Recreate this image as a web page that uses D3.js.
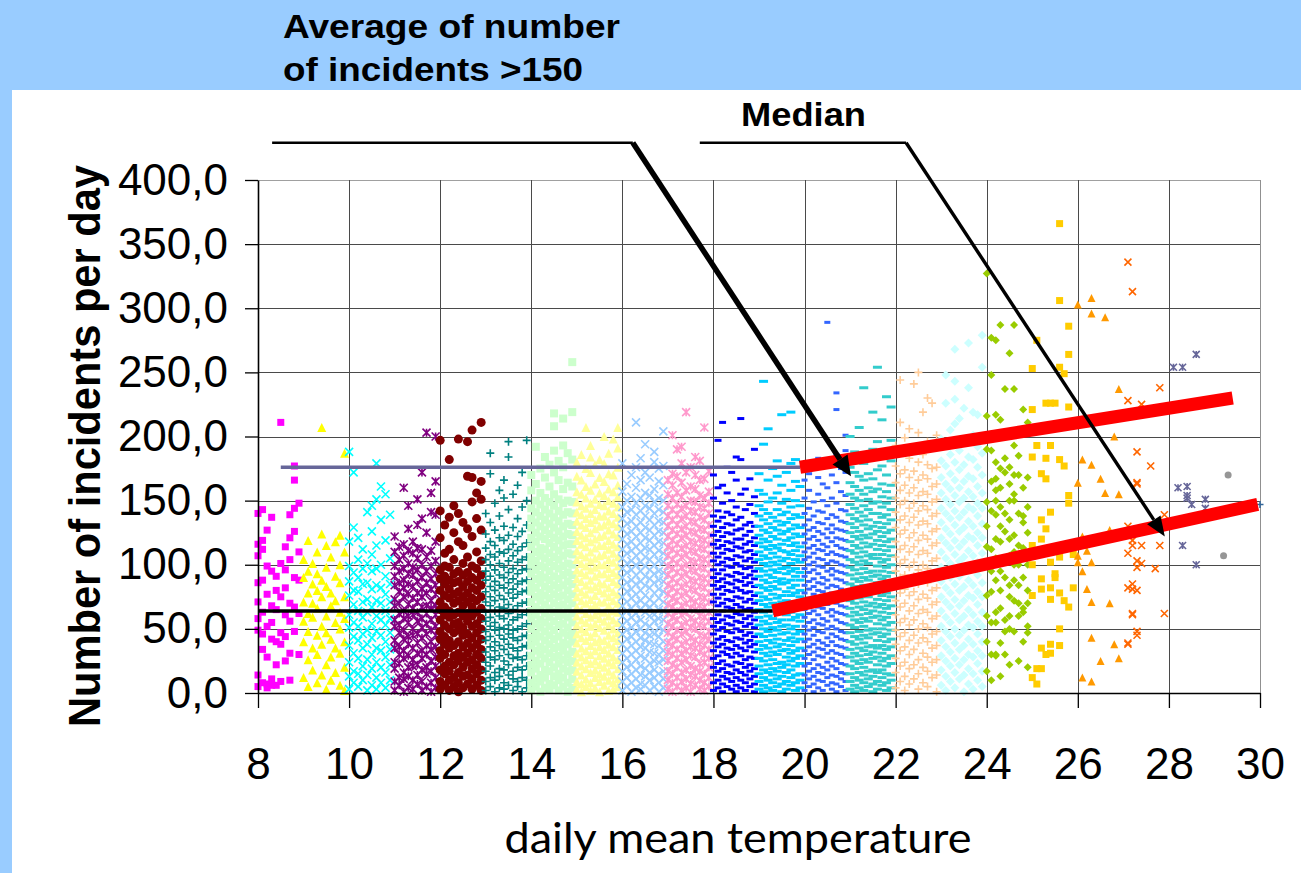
<!DOCTYPE html>
<html><head><meta charset="utf-8">
<script src="https://cdn.jsdelivr.net/npm/d3@7"></script>
<style>html,body{margin:0;padding:0;background:#fff;}svg{display:block;}</style>
</head><body>
<svg id="c" width="1301" height="873"></svg>
<script>
// ---------- DATA ----------
const xTicks = [8,10,12,14,16,18,20,22,24,26,28,30];
const yTicks = [0,50,100,150,200,250,300,350,400];
const xTitle = "daily mean temperature";
const yTitle = "Number of incidents per day";
const noteAverage = ["Average of number", "of incidents >150"];
const noteMedian = "Median";

// each band: 10 columns for temperatures t0.0 ... t0.9, values = incidents per day
const inc08 = [[5,14,49,58,71,86,107,116,140],[8,34,46,63,88,112,119,143],[4,7,28,52,77,99,127],[6,11,42,55,68,95,137],[6,22,40,65,80,91],[9,38,47,75,101,211],[25,44,61,82,96,114],[10,31,56,70,104,121,139],[48,67,90,126,144,166,177],[30,62,88,110,148]];
const inc09 = [[12,40,56,71,90,104],[5,26,48,62,78,95,119],[18,35,59,70,85,101],[8,30,45,66,80,93,110],[14,38,52,75,88,124,207],[3,22,47,60,83,98,115],[10,28,42,68,78,106],[16,35,55,72,91,118],[6,31,50,63,86,100,123],[2,20,40,58,75,110,187]];
const inc10 = [[3,13,24,37,51,61,76,87,99,118,188],[8,17,31,44,55,69,80,94,129,172],[5,15,27,41,52,64,79,90,104,121],[10,21,35,46,59,71,85,97,112],[2,14,26,38,49,63,73,86,101,141],[6,19,30,43,54,67,81,95,108,126,146],[3,12,24,35,48,60,72,84,97,115,151,179],[8,20,33,45,57,70,82,100,135,161],[4,16,28,40,53,64,77,91,119,155],[10,22,34,47,58,71,85,105,139]];
const inc11 = [[2,9,19,24,35,41,52,57,68,73,84,91,99,110,122],[6,12,23,30,36,47,53,62,70,79,86,95,104,114],[1,11,16,27,33,42,49,58,64,75,82,88,97,107,116,160],[4,13,20,29,38,44,55,60,69,77,85,93,101,111,128,146],[3,10,21,26,35,45,50,61,66,74,83,92,98,109,118],[7,14,22,31,39,46,56,63,71,78,87,96,105,113,131,151],[2,9,18,27,33,43,51,58,67,75,81,90,100,112,136,172],[5,15,20,30,37,46,54,62,68,78,86,95,106,125,203],[1,8,17,25,34,40,49,57,66,72,81,89,99,111,141,156],[4,12,21,28,36,45,52,61,68,77,84,93,103,118,139,165,200]];
const inc12 = [[3,9,18,27,33,42,48,57,65,71,80,89,96,121,142,197],[6,15,21,30,38,44,53,61,67,76,85,91,99,109,131],[2,10,17,24,35,41,50,59,64,74,81,88,98,112,137,182],[5,12,22,29,37,47,54,61,70,77,86,93,104,125,146],[1,8,16,25,31,40,49,55,63,72,79,87,95,118,140,198],[4,13,20,28,36,45,51,60,68,75,83,92,101,115,133],[7,14,24,31,39,46,56,62,71,78,87,94,106,128,169,196],[3,11,19,26,35,43,52,60,67,74,82,90,99,122,149,168,205],[6,15,22,30,38,47,54,63,72,80,88,97,110,136,156],[2,10,18,27,34,42,50,58,66,75,84,92,103,127,151,165,211]];
const inc13 = [[2,9,17,24,32,41,48,56,63,71,79,88,95,104,113,124,140],[5,12,21,28,36,44,52,59,68,75,83,91,100,108,118,133,171,187],[1,10,16,26,33,40,49,55,64,72,80,87,96,106,115,127,148],[4,13,19,29,37,45,51,60,67,76,84,92,101,110,121,138,158],[3,8,18,25,34,42,50,58,66,73,82,90,98,109,119,130,152,166],[6,14,22,30,38,46,53,62,69,78,86,94,103,112,123,143,184,196],[2,11,17,27,35,43,49,57,65,74,81,89,97,107,116,129,155],[5,9,20,28,33,41,50,59,68,77,85,93,102,111,122,136,162],[1,12,18,26,36,44,52,61,70,79,87,96,104,114,126,145,172],[4,10,21,29,37,45,54,63,71,80,88,97,106,117,131,150,197]];
const inc14 = [[2,8,16,22,29,37,43,50,58,64,71,79,85,93,100,106,114,121,129,136,144,158,170],[5,11,19,25,33,40,46,54,61,67,75,82,89,96,103,110,118,125,133,141,150,163,192],[1,9,14,23,30,36,44,51,57,65,72,78,86,92,99,107,113,122,130,138,147,156,175],[4,12,18,27,34,41,48,55,62,69,76,83,90,98,105,112,120,127,135,143,152,168,184],[3,7,17,24,31,38,45,52,59,66,74,81,88,95,102,109,117,124,132,140,149,161,178],[6,13,20,28,35,42,49,56,63,70,77,84,91,99,106,114,121,129,137,146,155,172,189,208,218],[2,10,15,23,29,36,44,53,60,68,75,82,89,97,104,111,119,126,134,142,151,166,181],[5,12,19,26,33,39,47,54,61,69,76,84,92,99,107,115,122,130,139,148,159,176,193,214],[1,8,17,24,30,38,45,51,59,66,73,80,87,94,101,109,116,124,132,141,150,164,187],[4,11,18,25,32,40,46,55,62,70,77,85,92,100,108,116,123,131,140,149,161,182,219,258]];
const inc15 = [[3,9,17,24,31,39,46,53,60,67,75,82,89,96,104,111,119,126,134,141,149,157,169,180],[1,7,14,21,28,35,43,50,57,65,72,79,87,94,101,108,116,123,131,139,146,155,166,186],[5,11,19,26,33,41,48,55,62,70,77,84,92,99,106,114,121,129,136,144,152,161,175,207],[2,8,16,23,30,37,44,52,59,66,73,81,88,96,103,110,118,125,133,140,148,158,172,184,193],[4,12,18,25,33,40,47,54,61,69,76,83,91,98,105,113,120,128,135,143,151,163,178],[1,9,15,22,29,36,42,51,58,64,71,80,86,93,100,107,115,122,130,138,147,156,168,182],[6,13,20,27,34,41,49,56,63,71,78,85,93,100,108,115,123,131,138,146,154,165,179,200],[2,10,17,24,31,38,45,53,60,68,75,82,90,97,104,112,119,127,134,142,150,159,171,187],[3,8,14,22,28,36,43,50,57,64,72,79,87,94,102,109,116,124,132,140,148,157,170,198],[5,11,19,26,34,41,47,55,63,70,77,85,92,99,106,114,122,130,137,145,153,162,176,191,207]];
const inc16 = [[2,9,17,24,31,38,46,53,60,68,75,83,90,97,105,112,120,128,136,145,157,179],[5,12,20,27,34,42,49,56,64,71,79,86,94,101,109,116,124,132,141,150,163],[1,8,15,22,30,37,44,51,59,66,74,81,88,96,103,111,118,126,134,143,153,170],[4,11,18,26,33,40,48,55,62,70,77,85,92,100,107,114,122,130,139,148,160,176,211],[3,7,14,21,29,36,43,50,57,65,72,80,87,95,102,110,117,125,133,142,152,166,183],[6,13,19,27,35,41,47,54,63,69,76,84,91,99,106,113,121,129,138,146,156,172,194],[2,10,16,23,32,39,45,52,60,67,73,82,89,96,104,112,119,127,135,144,154,168],[5,12,18,25,31,38,46,56,61,70,78,86,93,100,108,115,123,131,140,149,159,180,188],[1,8,15,24,30,37,44,51,58,65,74,81,88,95,103,111,118,126,134,143,152,165,175],[4,11,17,26,33,40,49,57,64,71,79,87,94,102,109,117,125,133,141,150,162,177,204]];
const inc17 = [[3,10,17,25,32,39,47,54,62,69,77,84,92,99,107,114,122,130,138,146,155,166],[1,8,15,22,30,37,44,52,59,67,74,82,89,97,104,112,119,127,135,143,152,162,171,201],[5,12,20,27,34,42,49,57,64,72,79,86,94,101,109,116,124,131,139,147,156,169,190],[2,9,16,24,31,38,46,53,61,68,76,83,91,98,106,113,121,128,136,144,153,164,179,192],[4,11,18,26,33,40,48,55,63,70,78,85,93,100,108,115,123,130,138,146,158,172,219],[1,7,14,21,29,36,43,51,58,66,73,81,88,96,103,111,118,126,134,142,150,161,176],[6,13,19,28,35,41,50,56,65,71,80,87,95,102,110,117,125,133,141,149,159,170,184],[3,10,17,23,32,38,45,53,60,68,75,83,90,98,105,113,120,128,137,145,154,166,181],[2,8,15,24,30,37,44,52,59,67,74,82,89,97,104,112,119,127,135,144,152,167,207],[5,12,20,27,34,42,48,56,63,71,78,86,93,101,108,116,123,131,140,148,157,173]];
const inc18 = [[2,8,14,20,27,33,39,46,52,58,64,71,77,84,90,96,103,109,116,123,130,138,152,170],[4,10,17,23,29,36,42,49,55,61,68,74,81,87,93,100,106,113,119,126,134,142,160,197],[1,7,13,19,25,32,38,44,51,57,64,70,77,83,89,96,102,109,115,122,129,137,148,162,211],[5,11,16,22,30,35,41,48,54,60,67,73,80,86,92,99,105,112,118,125,132,141,156,176],[3,9,15,21,28,34,40,47,53,59,66,72,79,85,91,98,104,111,117,124,131,139,150,172],[1,6,12,18,24,31,37,43,50,56,62,69,75,82,88,94,101,107,114,120,127,135,145,166,184],[4,10,16,23,29,35,42,48,55,61,67,74,80,87,93,99,106,113,120,128,137,155,182,214],[2,8,14,20,26,33,39,45,52,58,65,71,78,84,90,97,103,110,116,123,131,143,159],[5,11,17,22,28,36,41,47,54,60,66,73,79,86,92,98,105,111,118,126,133,147,167],[1,7,13,19,27,32,38,44,51,57,63,70,76,83,89,95,102,108,115,121,130,140,153,190]];
const inc19 = [[3,9,15,21,27,34,40,46,53,59,65,72,78,84,91,97,104,110,117,123,130,138,146,158,171],[1,6,12,18,25,31,37,44,50,56,63,69,75,82,88,95,101,107,114,120,127,135,143,155,194,243],[4,10,16,22,29,35,41,48,54,60,67,73,80,86,92,99,105,112,118,125,132,140,149,166,206],[2,8,14,19,26,32,39,45,51,58,64,70,77,83,90,96,102,109,115,122,129,137,152,175],[5,11,17,23,30,36,42,49,55,62,68,74,81,87,94,100,106,113,120,127,134,143,156,169,181],[1,7,13,20,24,33,38,46,52,57,65,71,76,85,89,97,103,111,116,124,131,139,148,162,217],[3,9,16,22,28,34,41,47,53,61,66,72,79,86,93,98,105,110,119,126,133,141,151,172],[6,12,18,25,31,37,43,50,57,63,69,76,82,88,95,101,108,115,121,128,136,145,158,179,219],[2,8,14,21,27,33,40,46,52,59,65,71,78,84,91,97,104,111,117,124,131,139,150,165,182],[4,10,15,23,29,35,42,48,56,61,67,75,80,88,94,102,107,114,122,129,137,146,161]];
const inc20 = [[2,8,14,21,27,33,40,46,52,59,65,72,78,84,91,97,104,110,117,124,131,140,152,166],[5,11,17,23,30,36,42,49,55,62,68,74,81,87,94,100,106,113,120,127,135,144,158,171],[1,7,13,19,26,32,38,45,51,57,64,70,77,83,89,96,102,109,115,122,129,138,149,176],[4,10,16,22,29,35,41,48,54,61,67,73,80,86,93,99,105,112,119,126,133,142,155,168,183],[2,9,15,20,28,34,39,47,53,58,66,71,79,85,90,98,104,111,116,124,132,141,150,163],[6,12,18,24,31,37,43,50,56,63,69,75,82,88,95,101,108,114,121,128,136,146,160,178,289],[3,8,14,21,27,33,40,46,52,60,65,72,78,84,92,97,103,110,118,125,131,139,152,170],[1,7,13,19,25,31,37,44,50,57,63,70,76,83,89,95,102,108,115,121,128,137,148,164,186,221,234],[5,11,16,23,30,36,42,48,55,62,68,74,81,88,94,100,107,113,120,127,134,143,157,175],[2,9,15,22,28,35,41,47,54,61,67,73,80,86,93,99,106,112,119,126,133,142,154,172,189,201]];
const inc21 = [[3,9,15,21,28,34,40,47,53,60,66,72,79,85,92,98,104,111,118,125,132,139,147,155,164,176,200],[1,6,12,19,25,31,38,44,51,57,63,70,76,83,89,96,102,109,115,122,129,136,144,152,161,172,188],[4,10,16,23,29,35,42,48,55,61,67,74,80,87,93,100,106,113,120,126,134,141,150,158,169,183,207],[2,8,14,20,26,33,39,45,52,58,65,71,77,84,90,97,103,110,117,123,131,138,146,155,166,179,238],[5,11,17,24,30,36,43,49,56,62,68,75,81,88,94,101,107,114,121,128,135,143,151,160,171,185],[1,7,13,18,27,32,37,46,50,59,64,70,78,82,91,95,105,108,116,124,130,140,148,157,167,190,219],[3,9,16,22,28,35,41,47,54,60,67,73,79,86,92,99,105,112,119,126,133,140,149,159,174,196,254],[6,12,18,25,31,37,44,50,57,63,69,76,82,89,95,102,108,115,122,129,137,145,153,163,177,213],[2,8,15,21,27,34,40,46,53,59,66,72,78,85,91,98,104,111,118,125,132,139,148,157,170,185,231],[4,10,14,23,29,36,42,49,55,62,68,75,81,87,94,100,107,114,120,127,135,143,152,162,181,197,223]];
const inc22 = [[4,16,27,38,49,61,72,83,95,106,118,129,141,152,164,177,193],[9,21,33,44,55,67,78,90,101,112,124,135,147,158,171,188,211,244],[2,13,24,36,47,58,70,81,92,104,115,127,138,150,162,174,199],[7,19,30,41,53,64,76,87,98,110,121,133,144,156,168,183,206],[11,22,34,45,57,68,79,91,102,114,125,137,148,160,173,190,241],[3,15,26,39,50,62,73,85,96,108,119,131,142,154,166,180,203,250],[8,20,31,43,54,65,77,88,100,111,123,134,146,157,170,186,219],[5,17,28,40,51,63,74,86,97,109,120,132,143,155,167,178,196,230],[12,24,35,46,58,69,80,92,103,115,126,138,149,161,175,192,226],[1,14,26,37,48,60,71,82,94,105,117,128,140,151,163,176,201]];
const inc23 = [[6,18,29,41,52,64,75,87,98,110,121,133,144,156,168,181,198],[2,13,25,36,48,59,71,82,94,105,117,128,140,151,163,177,193,226,248],[9,21,32,44,55,67,78,90,101,113,124,136,147,159,171,186,205],[4,16,27,39,50,62,73,85,96,108,119,131,142,154,166,180,210,229,243,268],[11,22,34,45,57,68,80,91,103,114,126,137,149,160,174,189,214],[1,14,26,37,49,60,72,83,95,106,118,129,141,152,165,178,196,222],[7,19,30,42,53,65,76,88,99,111,122,134,145,157,169,184,238,273],[3,15,28,38,51,61,74,84,97,107,120,130,143,153,167,182,201,219],[10,23,33,46,56,69,79,92,102,115,125,138,148,161,176,192,217],[5,17,29,40,52,63,75,86,98,109,121,132,144,156,170,187,254,279]];
const inc24 = [[327,216,190,149,130,114,100,76,60,40,17],[277,248,202,189,165,142,112,95,79,55,30,10],[275,217,180,167,158,150,139,120,105,88,63,55,30,29],[287,213,175,160,145,130,118,95,80,66,39,13],[237,200,183,172,140,126,105,90,57,48,30],[265,176,163,150,135,120,107,84,75,60,50,22],[287,237,193,170,155,150,123,110,100,88,72,48],[185,170,140,115,100,84,70,60,25],[221,160,138,133,113,90,66,63,40],[211,205,168,145,125,100,80,70,52,47,20]];
const inc25 = [[253,221,205,184,115,100,76,12],[275,193,19,7],[171,135,120,89,81,35,19],[226,183,167,128,30],[226,193,141,110,102,82,73,38,31],[226,93,90],[366,306,254,182,106,78,50,37],[249,177,72],[286,264,223,154,148,67],[108,82]];
const inc26 = [[303,164,107,102],[182,122,95,12],[111,81],[308,296,178,102,71,43,9],[],[167,25],[293,156],[127,70],[200,38],[237,155,27]];
const inc27 = [[],[336,228,130,109,82,39,38],[313,119,115,85,81,62,61],[188,164,163,103,98,80,48,45],[225,115,101],[],[177],[97],[238,115],[139,62]];
const inc28 = [[],[254],[160],[254,115],[161,154,152],[147],[264,100],[],[151,144],[]];
const inc29 = [[],[],[107],[170],[],[],[],[],[],[]];
const inc30 = [[147]];

const bandStart = [8,9,10,11,12,13,14,15,16,17,18,19,20,21,22,23,24,25,26,27,28,29,30];
const bandIncidents = [inc08,inc09,inc10,inc11,inc12,inc13,inc14,inc15,inc16,inc17,inc18,inc19,inc20,inc21,inc22,inc23,inc24,inc25,inc26,inc27,inc28,inc29,inc30];
const bandColor = ["#FF00FF","#FFFF00","#00FFFF","#800080","#800000","#008080","#CCFFCC","#FFFF99","#99CCFF","#FF99CC","#0000FF","#00CCFF","#3366FF","#33CCCC","#FFCC99","#CCFFFF","#99CC00","#FFCC00","#FF9900","#FF6600","#666699","#969696","#336699"];
const bandMarker = ["square","triangle","x","asterisk","circle","plus","square","triangle","x","asterisk","dash","dash","dash","dash","plus","diamond","diamond","square","triangle","x","asterisk","circle","plus"];
const bandSize = [7,9,8,8,9,8,8,9,8,8,7,9,6,9,8,9,8,7,8,7,7,7,7];

// reference lines (temperature, incidents)
const averageLevel = [[8.5,176],[19.9,176]];
const averageTrend = [[19.9,176],[29.4,230]];
const medianLevel = [[8.0,64],[19.3,64]];
const medianTrend = [[19.3,64],[29.95,147]];
// callout leader lines (temperature, incidents)
const averageCallout = [[8.31,429],[16.23,429],[21.02,169]];
const medianCallout = [[17.7,429],[22.23,429],[27.91,122]];

// ---------- DRAW ----------
const svg = d3.select("#c");
svg.append("rect").attr("width",1301).attr("height",873).attr("fill","#99CCFF");
svg.append("rect").attr("x",12).attr("y",90).attr("width",1289).attr("height",783).attr("fill","#fff");

const x = d3.scaleLinear().domain([8,30]).range([258,1260]);
const y = d3.scaleLinear().domain([0,400]).range([693,180]);
const px = v => Math.round(v)+0.5;

// grid
const grid = svg.append("g");
grid.selectAll("line.h").data(yTicks.filter(d=>d>0)).join("line")
  .attr("x1",x(8)).attr("x2",x(30)).attr("y1",d=>px(y(d))).attr("y2",d=>px(y(d)))
  .attr("stroke",d=>d===400?"#a0a0a0":"#4a4a4a").attr("stroke-width",1);
grid.selectAll("line.v").data(xTicks.filter(d=>d>8)).join("line")
  .attr("y1",y(0)).attr("y2",y(400)).attr("x1",d=>px(x(d))).attr("x2",d=>px(x(d)))
  .attr("stroke",d=>d===30?"#909090":"#4a4a4a").attr("stroke-width",1);

// markers
function markerPath(type, s){
  const h = s/2;
  switch(type){
    case "square": return `M${-h},${-h}h${s}v${s}h${-s}Z`;
    case "triangle": return `M0,${-h}L${h},${h}L${-h},${h}Z`;
    case "diamond": return `M0,${-h}L${h},0L0,${h}L${-h},0Z`;
    case "circle": return d3.symbol(d3.symbolCircle, Math.PI*h*h)();
    case "x": return `M${-h},${-h}L${h},${h}M${-h},${h}L${h},${-h}`;
    case "asterisk": return `M${-h},${-h}L${h},${h}M${-h},${h}L${h},${-h}M0,${-h}V${h}`;
    case "plus": return `M${-h},0H${h}M0,${-h}V${h}`;
    case "dash": return `M${-h},-1.5h${s}v3h${-s}Z`;
  }
}
const isFilled = t => ["square","triangle","diamond","circle","dash"].includes(t);
const plot = svg.append("g");
bandStart.forEach((t0,i)=>{
  const pts = [];
  bandIncidents[i].forEach((col,j)=>col.forEach(v=>pts.push({t:t0+j/10, v})));
  const m = bandMarker[i], f = isFilled(m), d = markerPath(m, bandSize[i]);
  plot.append("g").selectAll("path").data(pts).join("path")
    .attr("transform",p=>`translate(${x(p.t)},${y(p.v)})`)
    .attr("d",d)
    .attr("fill",f?bandColor[i]:"none")
    .attr("stroke",f?"none":bandColor[i])
    .attr("stroke-width",1.6);
});

// reference lines
const line = d3.line().x(d=>x(d[0])).y(d=>y(d[1]));
svg.append("path").attr("d",line(averageLevel)).attr("stroke","#666699").attr("stroke-width",3.5).attr("fill","none");
svg.append("path").attr("d",line(medianLevel)).attr("stroke","#000").attr("stroke-width",3.5).attr("fill","none");
svg.append("path").attr("d",line(averageTrend)).attr("stroke","#FF0000").attr("stroke-width",13).attr("fill","none");
svg.append("path").attr("d",line(medianTrend)).attr("stroke","#FF0000").attr("stroke-width",13).attr("fill","none");

// axes
const yAxis = d3.axisLeft(y).tickValues(yTicks).tickSize(13).tickSizeOuter(0).tickPadding(17)
  .tickFormat(d=>d3.format(".1f")(d).replace(".",","));
const gy = svg.append("g").attr("transform",`translate(${x(8)},0)`).call(yAxis);
const xAxis = d3.axisBottom(x).tickValues(xTicks).tickSize(15).tickSizeOuter(0).tickPadding(40).tickFormat(d=>d);
const gx = svg.append("g").attr("transform",`translate(0,${y(0)})`).call(xAxis);
[gx,gy].forEach(g=>{
  g.select(".domain").attr("stroke","#000").attr("stroke-width",1.6);
  g.selectAll(".tick line").attr("stroke","#000").attr("stroke-width",1.3);
  g.selectAll("text").attr("fill","#000").style("font-family","'Liberation Sans',Arial,sans-serif").style("font-size","44px");
});

// titles
svg.append("text").attr("transform",`translate(100,446) rotate(-90)`).attr("text-anchor","middle")
  .style("font-family","'Liberation Sans',Arial,sans-serif").style("font-size","44px").style("font-weight","bold")
  .attr("textLength",562).attr("lengthAdjust","spacingAndGlyphs").text(yTitle);
svg.append("text").attr("x",738).attr("y",853).attr("text-anchor","middle")
  .style("font-family","Lato,'Open Sans',sans-serif").style("font-size","43px")
  .attr("textLength",467).attr("lengthAdjust","spacingAndGlyphs").text(xTitle);

const noteFont = t => t.style("font-family","'Liberation Sans',Arial,sans-serif").style("font-weight","bold").style("font-size","34px").attr("lengthAdjust","spacingAndGlyphs");
svg.append("text").attr("x",283).attr("y",38).attr("textLength",337).call(noteFont).text(noteAverage[0]);
svg.append("text").attr("x",283).attr("y",81).attr("textLength",300).call(noteFont).text(noteAverage[1]);
svg.append("text").attr("x",741).attr("y",126).attr("textLength",125).call(noteFont).style("font-size","33px").text(noteMedian);

// callouts
function callout(pts, wH, wD, headLen, headW){
  const p = pts.map(d=>[x(d[0]),y(d[1])]);
  const [x1,y1] = p[1], [x2,y2] = p[2];
  const a = Math.atan2(y2-y1,x2-x1);
  const bx = x2-headLen*Math.cos(a), by = y2-headLen*Math.sin(a);
  svg.append("path").attr("d",d3.line()([p[0],p[1]])).attr("stroke","#000").attr("stroke-width",wH).attr("fill","none");
  svg.append("path").attr("d",d3.line()([p[1],[bx,by]])).attr("stroke","#000").attr("stroke-width",wD).attr("fill","none");
  const nx = -Math.sin(a), ny = Math.cos(a);
  svg.append("path").attr("d",`M${x2},${y2}L${bx+nx*headW},${by+ny*headW}L${bx-nx*headW},${by-ny*headW}Z`).attr("fill","#000");
}
callout(averageCallout, 2.6, 5.5, 20, 9);
callout(medianCallout, 2.4, 3.4, 20, 8);
</script>
</body></html>
